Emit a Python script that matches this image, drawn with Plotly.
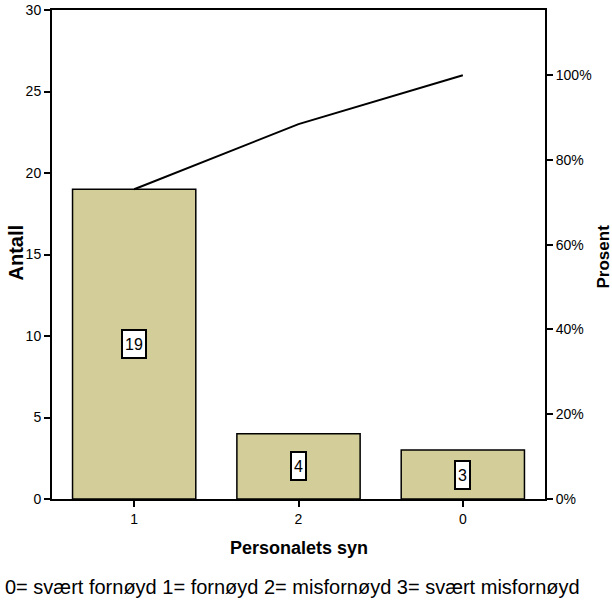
import plotly.graph_objects as go

# Pareto chart: counts per category with cumulative percentage line
categories = ["1", "2", "0"]
counts = [19, 4, 3]
count_labels = ["19", "4", "3"]
pct_ticks = [0, 20, 40, 60, 80, 100]
count_ticks = [0, 5, 10, 15, 20, 25, 30]

total = sum(counts)
cumulative_pct = []
running = 0
for c in counts:
    running += c
    cumulative_pct.append(running / total * 100)

count_max = 30
pct_max = count_max / total * 100

FONT = "Liberation Sans, Arial, sans-serif"
BAR_FILL = "#D3CE99"

fig = go.Figure()
fig.add_trace(go.Bar(
    x=categories, y=counts, width=0.75,
    marker=dict(color=BAR_FILL, line=dict(color="black", width=1.5)),
    showlegend=False, hoverinfo="skip",
))
fig.add_trace(go.Scatter(
    x=categories, y=cumulative_pct, yaxis="y2", mode="lines",
    line=dict(color="black", width=2), showlegend=False, hoverinfo="skip",
))

# value boxes centred in each bar (category axis positions are indices)
annotations = []
for idx, (val, lab) in enumerate(zip(counts, count_labels)):
    annotations.append(dict(
        x=idx, y=val / 2, xref="x", yref="y", text=lab, showarrow=False,
        font=dict(family=FONT, size=16, color="black"),
        bgcolor="white", bordercolor="black", borderwidth=2, borderpad=2,
        height=22,
    ))

annotations += [
    dict(text="<b>Antall</b>", xref="paper", yref="paper", x=0, y=0.5,
         xanchor="center", yanchor="middle", xshift=-37, yshift=2, textangle=-90,
         showarrow=False, font=dict(family=FONT, size=20, color="black")),
    dict(text="<b>Prosent</b>", xref="paper", yref="paper", x=1, y=0.5,
         xanchor="center", yanchor="middle", xshift=58, yshift=-2, textangle=-90,
         showarrow=False, font=dict(family=FONT, size=17, color="black")),
    dict(text="<b>Personalets syn</b>", xref="paper", yref="paper", x=0.5, y=0,
         xanchor="center", yanchor="middle", yshift=-49,
         showarrow=False, font=dict(family=FONT, size=18, color="black")),
    dict(text="0= svært fornøyd 1= fornøyd 2= misfornøyd 3= svært misfornøyd",
         xref="paper", yref="paper", x=0, y=0, xanchor="left", yanchor="middle",
         xshift=-49, yshift=-88, showarrow=False,
         font=dict(family=FONT, size=20, color="black")),
]

axis_common = dict(
    showline=True, linecolor="black", linewidth=2,
    ticks="outside", ticklen=6, tickwidth=2, tickcolor="black",
    showgrid=False, zeroline=False, automargin=False,
    tickfont=dict(family=FONT, size=14, color="black"),
)

fig.update_layout(
    width=612, height=600,
    margin=dict(l=52, r=67, t=10, b=101),
    paper_bgcolor="white", plot_bgcolor="white",
    font=dict(family=FONT, size=14, color="black"),
    bargap=0.25,
    xaxis=dict(type="category", range=[-0.5, 2.5], mirror=True, **axis_common),
    yaxis=dict(range=[0, count_max], tickvals=count_ticks, **axis_common),
    yaxis2=dict(
        overlaying="y", side="right", range=[0, pct_max],
        tickvals=pct_ticks, ticktext=[f"{v}%" for v in pct_ticks],
        **axis_common,
    ),
    annotations=annotations,
)

fig.write_html("out.html")
